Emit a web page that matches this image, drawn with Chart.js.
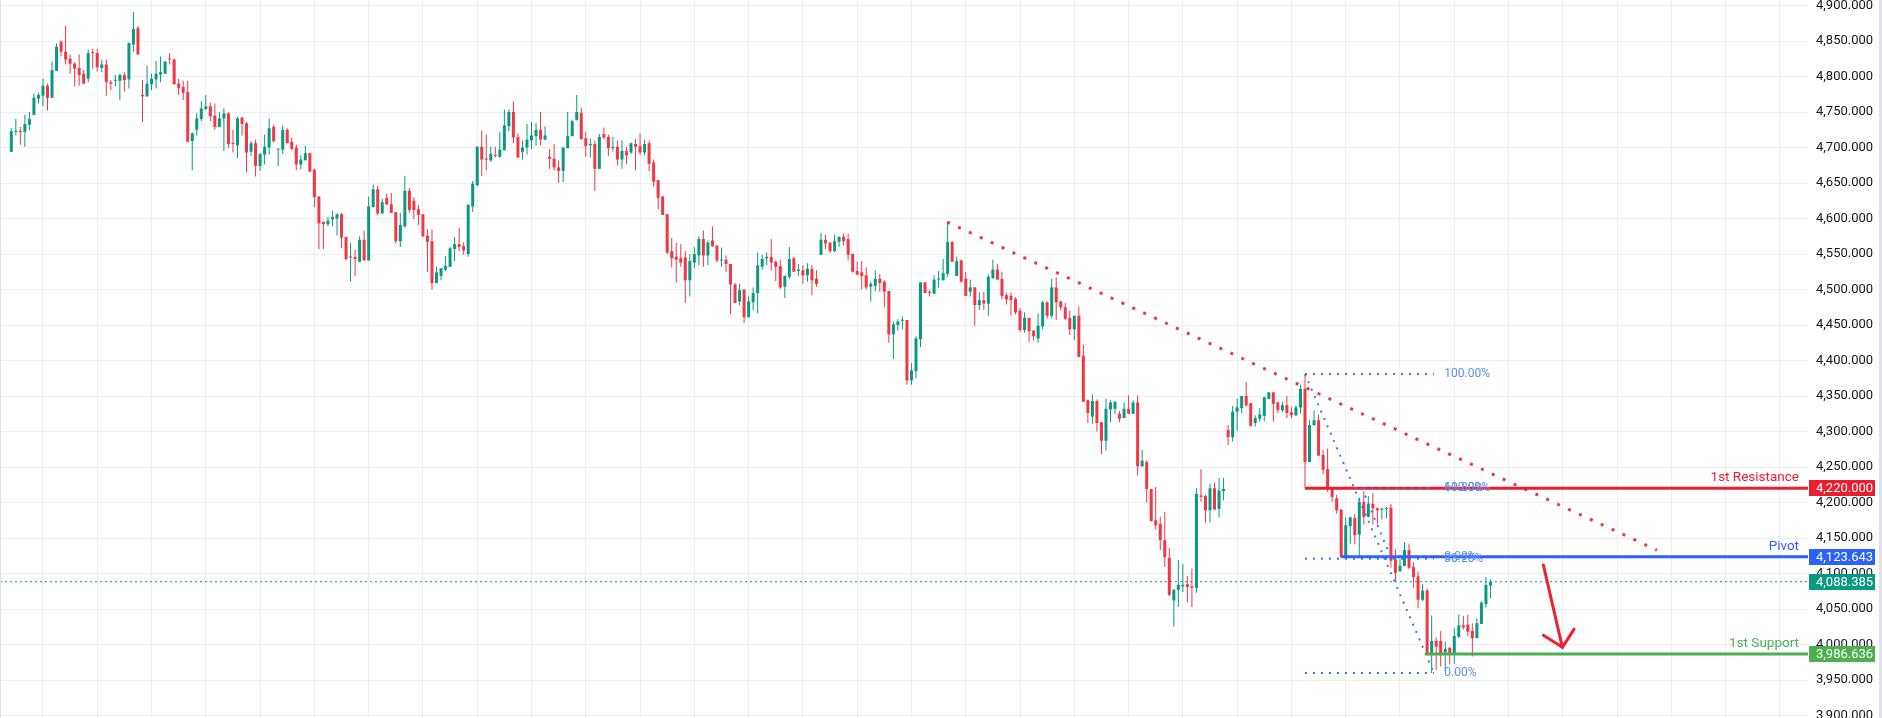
<!DOCTYPE html>
<html><head><meta charset="utf-8">
<script src="https://cdn.jsdelivr.net/npm/chart.js@4/dist/chart.umd.min.js"></script>
<style>html,body{margin:0;padding:0;background:#fff;overflow:hidden}canvas{display:block}</style>
</head><body>
<canvas id="c" width="1882" height="718"></canvas>
<script>
// ---------- DATA ----------
const opens = [
4694,4722,4723,4722,4732,4746,4769,4773,4787,4770,4808,4849,
4835,4825,4818,4812,4804,4797,4834,4833,4812,4817,4792,4794,
4794,4802,4796,4845,4868,4774,4772,4789,4796,4803,4804,4825,
4824,4790,4785,4778,4709,4725,4740,4754,4758,4745,4729,4741,
4748,4706,4703,4742,4734,4694,4706,4674,4690,4700,4729,4697,
4697,4725,4708,4700,4676,4682,4692,4669,4631,4595,4592,4599,
4600,4606,4574,4545,4546,4539,4570,4541,4616,4641,4607,4629,
4620,4609,4568,4589,4639,4625,4613,4606,4576,4568,4509,4519,
4528,4532,4557,4564,4561,4550,4617,4647,4701,4684,4682,4689,
4687,4696,4730,4750,4715,4694,4700,4710,4716,4725,4711,4687,
4684,4672,4667,4699,4716,4739,4749,4713,4703,4705,4670,4719,
4715,4699,4701,4683,4695,4693,4705,4702,4693,4706,4679,4654,
4631,4606,4554,4546,4544,4545,4513,4538,4548,4571,4548,4569,
4562,4541,4542,4536,4507,4483,4500,4461,4482,4495,4532,4544,
4546,4539,4533,4504,4518,4544,4526,4527,4520,4529,4515,4549,
4570,4566,4554,4567,4574,4571,4550,4526,4524,4520,4504,4505,
4515,4511,4498,4437,4450,4456,4457,4372,4385,4430,4510,4496,
4494,4514,4513,4522,4567,4519,4541,4515,4497,4503,4478,4485,
4480,4516,4528,4515,4492,4491,4487,4470,4443,4460,4442,4431,
4448,4482,4463,4503,4483,4475,4460,4444,4463,4407,4344,4321,
4343,4313,4287,4331,4332,4325,4319,4332,4325,4341,4251,4257,
4219,4175,4170,4147,4122,4062,4077,4082,4085,4082,4080,4210,
4209,4189,4220,4191,4216,4302,4292,4328,4333,4350,4340,4312,
4318,4322,4346,4355,4341,4330,4337,4327,4323,4334,4360,4257,
4309,4316,4267,4247,4220,4206,4190,4123,4167,4178,4155,4201,
4180,4198,4192,4190,4191,4193,4120,4103,4111,4133,4109,4096,
4063,4076,3985,4005,4005,3989,3995,3986,4011,4027,4028,4019,
4009,4029,4057,4083];
const highs = [
4727,4740,4729,4746,4750,4776,4777,4797,4790,4821,4847,4851,
4872,4831,4820,4831,4809,4838,4839,4839,4824,4824,4795,4802,
4804,4806,4848,4891,4871,4795,4815,4804,4822,4828,4822,4833,
4825,4797,4794,4794,4721,4749,4765,4774,4763,4762,4750,4755,
4750,4725,4743,4743,4736,4709,4711,4692,4718,4741,4732,4698,
4731,4727,4714,4704,4689,4703,4693,4670,4631,4596,4602,4611,
4607,4608,4574,4566,4556,4575,4583,4631,4648,4646,4628,4635,
4636,4609,4608,4660,4643,4630,4619,4606,4585,4584,4532,4530,
4547,4560,4574,4587,4567,4620,4653,4702,4724,4718,4701,4701,
4722,4753,4754,4765,4720,4710,4733,4736,4734,4750,4730,4698,
4705,4682,4700,4750,4739,4774,4756,4722,4713,4710,4719,4728,
4718,4715,4710,4710,4701,4707,4712,4720,4711,4710,4683,4654,
4632,4606,4573,4566,4564,4554,4550,4560,4575,4583,4569,4589,
4562,4559,4548,4536,4509,4508,4500,4490,4503,4552,4549,4552,
4571,4541,4542,4520,4560,4546,4536,4534,4537,4534,4527,4580,
4577,4567,4577,4575,4579,4579,4550,4539,4540,4531,4511,4527,
4522,4513,4498,4455,4458,4462,4457,4396,4434,4510,4510,4499,
4520,4526,4543,4595,4568,4546,4542,4525,4514,4503,4496,4497,
4521,4542,4536,4525,4495,4496,4489,4474,4468,4460,4443,4466,
4484,4483,4515,4517,4484,4481,4470,4463,4476,4422,4345,4352,
4345,4313,4346,4344,4342,4329,4341,4351,4344,4351,4274,4259,
4219,4222,4180,4187,4136,4078,4119,4113,4096,4107,4220,4247,
4211,4226,4228,4235,4235,4309,4336,4346,4350,4370,4340,4323,
4333,4349,4356,4356,4342,4342,4350,4334,4337,4366,4381,4316,
4330,4324,4274,4276,4220,4211,4190,4179,4180,4184,4207,4216,
4209,4213,4193,4193,4194,4198,4134,4120,4144,4142,4116,4103,
4085,4079,4041,4010,4019,4004,3997,4023,4042,4040,4042,4030,
4037,4061,4095,4092];
const lows = [
4694,4717,4704,4701,4724,4746,4762,4758,4752,4770,4808,4828,
4817,4804,4786,4787,4789,4792,4811,4807,4806,4773,4781,4786,
4767,4779,4783,4835,4831,4736,4772,4781,4783,4792,4804,4817,
4789,4774,4767,4708,4668,4717,4737,4753,4737,4725,4729,4695,
4699,4693,4685,4717,4665,4688,4659,4667,4676,4690,4707,4674,
4691,4706,4696,4668,4669,4682,4666,4616,4557,4557,4589,4589,
4576,4558,4541,4511,4519,4539,4541,4541,4616,4605,4607,4619,
4608,4565,4560,4587,4608,4599,4591,4574,4525,4500,4509,4513,
4526,4532,4540,4554,4549,4546,4609,4645,4660,4668,4680,4686,
4686,4696,4723,4706,4686,4683,4690,4698,4703,4703,4711,4670,
4668,4650,4651,4699,4716,4738,4711,4687,4686,4639,4670,4712,
4688,4694,4675,4670,4677,4691,4668,4689,4689,4667,4645,4613,
4605,4550,4531,4510,4532,4481,4490,4530,4534,4532,4534,4560,
4538,4532,4525,4465,4481,4478,4453,4461,4471,4467,4528,4534,
4527,4512,4501,4488,4515,4525,4519,4508,4511,4492,4504,4549,
4557,4551,4553,4560,4562,4541,4524,4520,4500,4500,4483,4498,
4497,4475,4425,4402,4442,4444,4366,4366,4375,4419,4495,4490,
4494,4502,4513,4518,4539,4519,4510,4491,4490,4449,4471,4471,
4463,4515,4514,4486,4479,4463,4465,4440,4439,4426,4428,4425,
4444,4459,4460,4457,4471,4457,4436,4429,4405,4342,4312,4311,
4300,4268,4273,4313,4325,4313,4319,4325,4325,4238,4250,4200,
4173,4162,4133,4109,4068,4025,4053,4074,4059,4053,4073,4201,
4172,4172,4190,4179,4203,4281,4286,4301,4326,4335,4307,4307,
4314,4314,4346,4314,4326,4327,4319,4319,4322,4325,4220,4257,
4308,4266,4240,4215,4201,4184,4123,4123,4142,4141,4123,4169,
4179,4169,4169,4176,4178,4108,4089,4103,4110,4106,4080,4051,
4061,3985,3960,3964,3969,3962,3972,3973,4009,4021,4012,3983,
4009,4029,4052,4065];
const closes = [
4723,4723,4722,4733,4740,4770,4774,4787,4770,4809,4842,4835,
4824,4818,4811,4802,4790,4833,4833,4813,4817,4792,4790,4795,
4802,4795,4847,4867,4831,4772,4790,4797,4804,4806,4821,4824,
4789,4784,4777,4708,4720,4741,4755,4758,4744,4729,4741,4748,
4705,4705,4741,4733,4693,4706,4674,4691,4701,4727,4709,4698,
4725,4706,4698,4676,4683,4692,4666,4630,4593,4592,4597,4602,
4606,4573,4543,4546,4543,4570,4541,4617,4641,4607,4623,4620,
4608,4568,4591,4639,4612,4612,4605,4575,4567,4509,4524,4530,
4533,4558,4564,4560,4555,4619,4649,4701,4683,4683,4691,4688,
4697,4731,4750,4714,4686,4700,4711,4717,4725,4711,4717,4684,
4672,4667,4700,4716,4737,4750,4712,4702,4705,4670,4715,4714,
4699,4701,4683,4695,4689,4706,4701,4693,4705,4677,4652,4629,
4605,4552,4544,4542,4538,4513,4540,4550,4571,4548,4566,4561,
4541,4542,4536,4507,4481,4499,4461,4483,4495,4534,4543,4546,
4538,4532,4503,4519,4543,4525,4528,4520,4529,4513,4508,4570,
4565,4554,4568,4574,4568,4549,4525,4521,4519,4503,4508,4515,
4509,4497,4437,4451,4455,4457,4372,4386,4431,4510,4495,4495,
4514,4515,4523,4567,4539,4540,4511,4491,4503,4478,4485,4480,
4518,4528,4514,4491,4486,4485,4468,4443,4460,4441,4434,4449,
4482,4463,4503,4482,4475,4459,4444,4463,4405,4342,4326,4343,
4312,4287,4332,4341,4342,4318,4332,4325,4341,4251,4259,4219,
4174,4168,4147,4123,4070,4077,4084,4084,4081,4080,4212,4208,
4189,4220,4190,4217,4219,4292,4328,4334,4350,4337,4308,4319,
4324,4348,4355,4339,4330,4337,4326,4323,4334,4360,4257,4309,
4316,4266,4246,4219,4208,4189,4123,4168,4179,4154,4201,4180,
4198,4192,4189,4191,4192,4118,4101,4111,4133,4108,4095,4063,
4076,3985,4005,3997,3985,3994,3987,4012,4027,4024,4018,4009,
4030,4059,4084,4088.385];

const yTickValues = [3900,3950,4000,4050,4100,4150,4200,4250,4300,4350,4400,4450,4500,
  4550,4600,4650,4700,4750,4800,4850,4900];

const lastPrice = 4088.385;
const levelNames = ['1st Resistance', 'Pivot', '1st Support'];
const levelPrices = [4220.000, 4123.643, 3986.636];
const levelStartBars = [286, 294, 312.7];

const trendBars = [206.9, 363.8];
const trendPrices = [4595, 4133];

const fibBars = [286, 314.5];          // main retracement: from swing high to swing low
const fibPrices = [4381, 3960];
const fibRatios = [1, 0.618, 0.382, 0];
const fib2Bars = [298.6, 304.9];       // small retracement
const fib2Prices = [4220, 4123.643];
const fib2Ratios = [1, 0];
const fibLabelBar = 316.8;

const arrowShaftBars = [338.7, 342.9, 338.7];
const arrowShaftPrices = [4112, 3996, 4013];
const arrowHeadBars = [342.9, 345.5];
const arrowHeadPrices = [3996, 4021.6];

// ---------- STYLE ----------
const UP = '#089981', DOWN = '#f23645';
const RES = '#ec1d2e', PIV = '#2962ff', SUP = '#4caf50';
const FIB = '#3a78f2', FIBTXT = '#5a90f3';
const GRID = '#eceef2';
const levelColors = [RES, PIV, SUP];
const xMin = -2.5, xMax = 397.2, yMin = 3896.5, yMax = 4907.75;
const xTickValues = [];
for (let v = 7; v <= 395; v += 12) xTickValues.push(v);

const fmt = v => Number(v).toLocaleString('en-US', {minimumFractionDigits: 3, maximumFractionDigits: 3});
const candleColors = closes.map((c, i) => c >= opens[i] ? UP : DOWN);
const wickData = lows.map((l, i) => ({x: i, y: [l, highs[i]]}));
const bodyData = opens.map((o, i) => ({x: i, y: [o, closes[i]]}));
const pts = (xs, ys) => xs.map((x, i) => ({x, y: ys[i]}));
const fibLevel = (prices, r) => prices[1] + r * (prices[0] - prices[1]);

function lineDs(data, color, width, dash, order, cap) {
  return {type: 'line', data, borderColor: color, borderWidth: width, borderDash: dash || [],
    borderCapStyle: cap || 'butt', borderJoinStyle: 'round', pointRadius: 0, pointHoverRadius: 0,
    fill: false, tension: 0, order};
}

const datasets = [];
datasets.push(lineDs(pts([xMin, xMax], [lastPrice, lastPrice]), UP, 1, [2, 3], 20));
datasets.push({type: 'bar', data: wickData, backgroundColor: candleColors, borderWidth: 0, grouped: false,
  maxBarThickness: 1, barPercentage: 1, categoryPercentage: 1, inflateAmount: 0, order: 19});
datasets.push({type: 'bar', data: bodyData, backgroundColor: candleColors, borderWidth: 0, grouped: false,
  maxBarThickness: 3, barPercentage: 1, categoryPercentage: 1, inflateAmount: 0, minBarLength: 1, order: 18});
// main fib level lines (under the level lines) and diagonal
fibRatios.forEach(r => {
  const p = fibLevel(fibPrices, r);
  datasets.push(lineDs(pts(fibBars, [p, p]), FIB, 2, [2, 6], 10));
});
datasets.push(lineDs(pts(fibBars, fibPrices), FIB, 2, [2, 6], 10));
// trend line
datasets.push(lineDs(pts(trendBars, trendPrices), DOWN, 3, [3, 9], 8));
// key levels
levelPrices.forEach((p, i) => {
  datasets.push(lineDs(pts([levelStartBars[i], xMax], [p, p]), levelColors[i], 3, [], 6));
});
// small fib
fib2Ratios.forEach(r => {
  const p = fibLevel(fib2Prices, r);
  datasets.push(lineDs(pts([fib2Bars[0] - 1.5, fibBars[1]], [p, p]), FIB, 2, [2, 6], 4));
});
datasets.push(lineDs(pts(fib2Bars, fib2Prices), FIB, 2, [2, 6], 4));
// arrow
datasets.push(lineDs(pts(arrowShaftBars, arrowShaftPrices), '#f0202e', 3, [], 2, 'round'));
datasets.push(lineDs(pts(arrowHeadBars, arrowHeadPrices), '#f0202e', 3, [], 2, 'round'));

const overlay = {
  id: 'overlay',
  afterDatasetsDraw(chart) {
    const {ctx, scales: {x, y}, chartArea} = chart;
    ctx.save();
    ctx.font = '12px Roboto';
    ctx.fillStyle = FIBTXT;
    ctx.textAlign = 'left';
    ctx.textBaseline = 'middle';
    const lx = x.getPixelForValue(fibLabelBar);
    fibRatios.forEach(r => ctx.fillText((r * 100).toFixed(2) + '%', lx, y.getPixelForValue(fibLevel(fibPrices, r))));
    fib2Ratios.forEach(r => ctx.fillText((r * 100).toFixed(2) + '%', lx, y.getPixelForValue(fibLevel(fib2Prices, r))));
    ctx.font = '13.5px Roboto';
    ctx.textAlign = 'right';
    ctx.textBaseline = 'alphabetic';
    levelNames.forEach((n, i) => {
      ctx.fillStyle = levelColors[i];
      ctx.fillText(n, chartArea.right - 9, y.getPixelForValue(levelPrices[i]) - 7);
    });
    ctx.restore();
  },
  afterDraw(chart) {
    const {ctx, scales: {y}, chartArea, width, height} = chart;
    ctx.save();
    const boxes = levelPrices.map((p, i) => [p, levelColors[i]]).concat([[lastPrice, UP]]);
    ctx.font = '13px Roboto';
    ctx.textAlign = 'left';
    ctx.textBaseline = 'middle';
    boxes.forEach(([p, c]) => {
      const py = Math.round(y.getPixelForValue(p));
      ctx.fillStyle = c;
      ctx.fillRect(chartArea.right + 1, py - 8, 66, 16);
      ctx.fillStyle = '#ffffff';
      ctx.fillText(fmt(p), chartArea.right + 8, py + 0.5);
    });
    ctx.fillStyle = '#dfe2e8';
    ctx.fillRect(0, 0, 1, height);
    ctx.fillRect(width - 3, 0, 3, height);
    ctx.restore();
  }
};

Chart.defaults.font.family = 'Roboto';
new Chart(document.getElementById('c'), {
  type: 'bar',
  data: {datasets},
  plugins: [overlay],
  options: {
    responsive: false,
    animation: false,
    devicePixelRatio: 1,
    layout: {padding: 0, autoPadding: false},
    plugins: {legend: {display: false}, tooltip: {enabled: false}},
    events: [],
    scales: {
      x: {
        type: 'linear', min: xMin, max: xMax, offset: false,
        afterBuildTicks: a => { a.ticks = xTickValues.map(v => ({value: v})); },
        afterFit: a => { a.height = 0; a.paddingLeft = 0; a.paddingRight = 0; },
        grid: {color: GRID, drawTicks: false, offset: false},
        border: {display: false},
        ticks: {display: false}
      },
      y: {
        type: 'linear', position: 'right', min: yMin, max: yMax,
        afterBuildTicks: a => { a.ticks = yTickValues.map(v => ({value: v})); },
        afterFit: a => { a.width = 74; a.paddingTop = 0; a.paddingBottom = 0; },
        grid: {color: GRID, drawTicks: false},
        border: {display: false},
        ticks: {padding: 8, color: '#131722', font: {family: 'Roboto', size: 13}, autoSkip: false,
          maxRotation: 0, callback: v => fmt(v)}
      }
    }
  }
});
</script>
</body></html>
